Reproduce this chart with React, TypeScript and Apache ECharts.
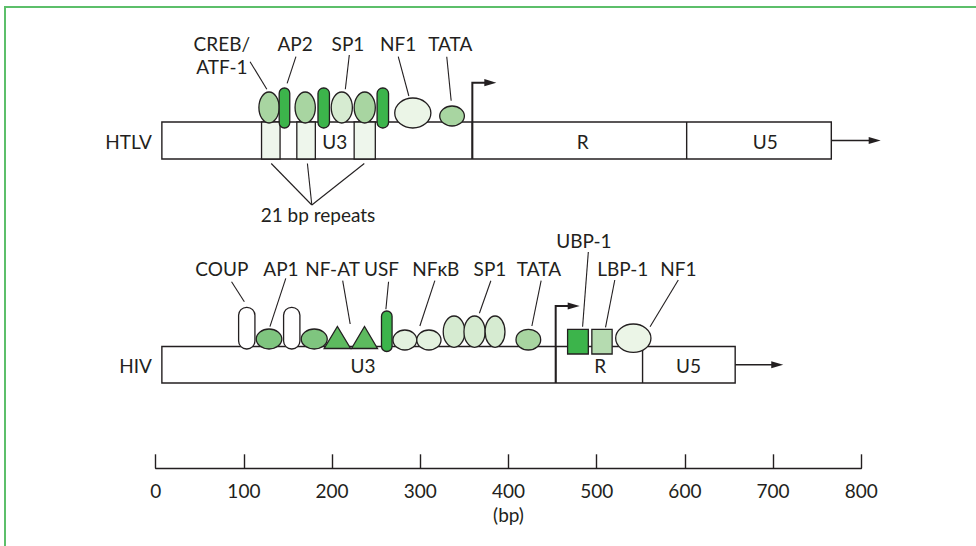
import React, { useEffect, useRef } from "react";
import * as echarts from "echarts";

// ---------------- data (positions in base pairs) ----------------
const axisMin = 0;
const axisMax = 800;
const axisStep = 100;
const axisName = "(bp)";

const rowNames = ["HTLV", "HIV"];

const htlvSegmentNames = ["U3", "R", "U5"];
const htlvSegmentBounds = [7, 359, 602, 766];
const htlvSegmentLabelBp = [203, 484, 691];
const htlvRepeatStart = [120, 160, 225];
const htlvRepeatEnd = [141, 181, 249];
const htlvSiteStart = [117, 140, 158, 184, 199, 225, 251, 271, 322];
const htlvSiteEnd = [140, 152, 181, 197, 223, 249, 264, 312, 350];
const htlvSiteKind = ["creb", "ap2", "creb", "ap2", "sp1h", "creb", "ap2", "nf1h", "tatah"];
const htlvLabels = ["CREB/\nATF-1", "AP2", "SP1", "NF1", "TATA"];
const htlvLabelBp = [75, 158, 218, 275, 334];
const htlvLeaderFromBp = [107, 159, 219.5, 275, 330];
const htlvLeaderToBp = [126, 149, 215, 287, 335];
const htlvPromoterBp = 359;
const htlvEndArrowBp = 822;
const repeatLabel = "21 bp repeats";
const repeatLabelBp = 184;
const repeatConvergeBp = 177;
const repeatLeaderTopBp = [131, 172, 236.5];

const hivSegmentNames = ["U3", "R", "U5"];
const hivSegmentBounds = [7, 453.5, 552, 657];
const hivSegmentLabelBp = [235, 504, 604];
const hivSiteStart = [94, 114, 145, 165, 191, 222, 256, 269, 296, 326, 349.5, 373.5, 408.5, 467, 494.5, 521.5];
const hivSiteEnd = [112.5, 143, 163.5, 194.5, 221, 251.5, 268, 296, 323.5, 350.5, 373.5, 396, 436.5, 490.5, 517.5, 561.5];
const hivSiteKind = ["coup", "ap1", "coup", "ap1", "nfat", "nfat", "usf", "nfkb", "nfkb", "sp1", "sp1", "sp1", "tata", "ubp", "lbp", "nf1"];
const hivLabels = ["COUP", "AP1", "NF-AT", "USF", "NFκB", "SP1", "TATA", "UBP-1", "LBP-1", "NF1"];
const hivLabelBp = [75, 142, 200.5, 256, 317.5, 379, 434.5, 485.5, 529.5, 592.5];
const hivLeaderFromBp = [86, 147.5, 212, 264, 316.5, 380, 437, 490.5, 520.5, 592.5];
const hivLeaderToBp = [100.5, 129.5, 220.5, 261, 299.5, 367, 426.5, 484, 510, 560.5];
const hivPromoterBp = 453.5;
const hivEndArrowBp = 711.5;

// ---------------- layout & styles (pixels) ----------------
const INK = "#231f20";
const FONT = "Lato";
const FS = 19;
const FRAME = "#5cbf6a";

const LAYOUT: any = {
  htlv: {
    top: 122,
    bottom: 159,
    labelY: [43.3, 43.3, 43.3, 43.3, 43.3],
    leaderTop: [61.7, 56.7, 55, 56.7, 56.7],
    leaderBottom: [89.3, 83.3, 89.3, 96, 100.7],
    promoterTop: 82.7,
  },
  hiv: {
    top: 346.5,
    bottom: 383,
    labelY: [268.3, 268.3, 268.3, 268.3, 268.3, 268.3, 268.3, 240, 268.3, 268.3],
    leaderTop: [281.7, 278.3, 280.7, 281.7, 280.7, 280.7, 280.7, 252, 280, 280],
    leaderBottom: [301.7, 326.7, 324, 309.3, 326, 313.3, 326, 326.7, 327.3, 326.7],
    promoterTop: 306,
  },
};
const LINE_H = 23.4;
const REPEAT_TOP_Y = 163.5;
const REPEAT_CONVERGE_Y = 205;
const REPEAT_LABEL_Y = 214;
const PROMOTER_LEN = 24;
const HEAD_LEN = 12;
const HEAD_HALF = 3.6;

const SITE_STYLE: any = {
  creb: { shape: "ellipse", top: -30, bottom: 1, fill: "#a8d5a1" },
  ap2: { shape: "rect", top: -34, bottom: 6, fill: "#3cb44b", r: 5.5 },
  sp1h: { shape: "ellipse", top: -30, bottom: 1, fill: "#d6ebd1" },
  nf1h: { shape: "ellipse", top: -24, bottom: 6, fill: "#ebf5e7" },
  tatah: { shape: "ellipse", top: -16, bottom: 4, fill: "#a8d5a1" },
  coup: { shape: "rect", top: -39.2, bottom: 2.5, fill: "#ffffff", r: 8 },
  ap1: { shape: "ellipse", top: -17.5, bottom: 2.5, fill: "#7fc57f" },
  nfat: { shape: "triangle", top: -20, bottom: 2, fill: "#5dba5f" },
  usf: { shape: "rect", top: -35.5, bottom: 5, fill: "#3cb44b", r: 5.5 },
  nfkb: { shape: "ellipse", top: -16.5, bottom: 3.5, fill: "#e3f1df" },
  sp1: { shape: "ellipse", top: -30.5, bottom: 0.8, fill: "#d6ebd1" },
  tata: { shape: "ellipse", top: -17.2, bottom: 3.5, fill: "#a8d5a1" },
  ubp: { shape: "rect", top: -17.2, bottom: 7.5, fill: "#3cb44b", r: 0 },
  lbp: { shape: "rect", top: -17.2, bottom: 7.5, fill: "#b5dbb0", r: 0 },
  nf1: { shape: "ellipse", top: -22.5, bottom: 5.8, fill: "#ebf5e7" },
};

const textEl = (text: string, x: number, y: number, align = "center") => ({
  type: "text",
  style: { text, x, y, align, verticalAlign: "middle", fontSize: FS, fontFamily: FONT, fill: INK },
});
const lineEl = (x1: number, y1: number, x2: number, y2: number, w = 1.2) => ({
  type: "line",
  shape: { x1, y1, x2, y2 },
  style: { stroke: INK, lineWidth: w },
});
const headEl = (x: number, y: number) => ({
  type: "polygon",
  shape: { points: [[x, y], [x - HEAD_LEN, y - HEAD_HALF], [x - HEAD_LEN, y + HEAD_HALF]] },
  style: { fill: INK },
});

const ROWS: any = {
  htlv: {
    name: rowNames[0], seg: htlvSegmentNames, bounds: htlvSegmentBounds, segLabel: htlvSegmentLabelBp,
    siteStart: htlvSiteStart, siteEnd: htlvSiteEnd, siteKind: htlvSiteKind,
    labels: htlvLabels, labelBp: htlvLabelBp, fromBp: htlvLeaderFromBp, toBp: htlvLeaderToBp,
    promoter: htlvPromoterBp, endArrow: htlvEndArrowBp,
  },
  hiv: {
    name: rowNames[1], seg: hivSegmentNames, bounds: hivSegmentBounds, segLabel: hivSegmentLabelBp,
    siteStart: hivSiteStart, siteEnd: hivSiteEnd, siteKind: hivSiteKind,
    labels: hivLabels, labelBp: hivLabelBp, fromBp: hivLeaderFromBp, toBp: hivLeaderToBp,
    promoter: hivPromoterBp, endArrow: hivEndArrowBp,
  },
};

function rowSeries(key: string): any[] {
  const R = ROWS[key];
  const L = LAYOUT[key];
  const n = R.bounds.length;
  const boxSeries = {
    type: "custom", z: 1, clip: false, silent: true,
    data: [[R.bounds[0], R.bounds[n - 1], R.endArrow]],
    renderItem: (_p: any, api: any) => {
      const [x0, y0] = api.coord([api.value(0), L.top]);
      const [x1, y1] = api.coord([api.value(1), L.bottom]);
      const [xa] = api.coord([api.value(2), L.top]);
      const cy = (y0 + y1) / 2;
      const children: any[] = [
        { type: "rect", shape: { x: x0, y: y0, width: x1 - x0, height: y1 - y0 }, style: { fill: "#fff", stroke: INK, lineWidth: 1.4 } },
        textEl(R.name, x0 - 10, cy + 1, "right"),
        lineEl(x1, cy, xa - HEAD_LEN + 1, cy, 1.3),
        headEl(xa, cy),
      ];
      return { type: "group", children };
    },
  };
  const segSeries = {
    type: "custom", z: 3, clip: false, silent: true,
    data: R.seg.map((_s: string, i: number) => [R.bounds[i], R.segLabel[i]]),
    renderItem: (p: any, api: any) => {
      const i = p.dataIndex;
      const [xb, y0] = api.coord([api.value(0), L.top]);
      const [, y1] = api.coord([api.value(0), L.bottom]);
      const [xl] = api.coord([api.value(1), L.top]);
      const children: any[] = [textEl(R.seg[i], xl, (y0 + y1) / 2 + 1)];
      if (i > 0) children.push(lineEl(xb, y0, xb, y1, 1.4));
      return { type: "group", children };
    },
  };
  const promoterSeries = {
    type: "custom", z: 3, clip: false, silent: true,
    data: [[R.promoter]],
    renderItem: (_p: any, api: any) => {
      const [x, yb] = api.coord([api.value(0), L.bottom]);
      const [, yt] = api.coord([api.value(0), L.promoterTop]);
      return {
        type: "group",
        children: [
          { type: "polyline", shape: { points: [[x, yb], [x, yt], [x + PROMOTER_LEN - HEAD_LEN + 1, yt]] }, style: { stroke: INK, lineWidth: 2, fill: null } },
          headEl(x + PROMOTER_LEN, yt),
        ],
      };
    },
  };
  const siteSeries = {
    type: "custom", z: 4, clip: false, silent: true,
    data: R.siteStart.map((s: number, i: number) => [s, R.siteEnd[i]]),
    renderItem: (p: any, api: any) => {
      const st = SITE_STYLE[R.siteKind[p.dataIndex]];
      const [x0, y0] = api.coord([api.value(0), L.top + st.top]);
      const [x1, y1] = api.coord([api.value(1), L.top + st.bottom]);
      const style = { fill: st.fill, stroke: INK, lineWidth: 1.3 };
      if (st.shape === "ellipse")
        return { type: "ellipse", shape: { cx: (x0 + x1) / 2, cy: (y0 + y1) / 2, rx: (x1 - x0) / 2, ry: (y1 - y0) / 2 }, style };
      if (st.shape === "triangle")
        return { type: "polygon", shape: { points: [[x0, y1], [(x0 + x1) / 2, y0], [x1, y1]] }, style };
      return { type: "rect", shape: { x: x0, y: y0, width: x1 - x0, height: y1 - y0, r: st.r }, style };
    },
  };
  const labelSeries = {
    type: "custom", z: 5, clip: false, silent: true,
    data: R.labels.map((_l: string, i: number) => [R.labelBp[i], R.fromBp[i], R.toBp[i]]),
    renderItem: (p: any, api: any) => {
      const i = p.dataIndex;
      const [xl] = api.coord([api.value(0), 0]);
      const [xf, yf] = api.coord([api.value(1), L.leaderTop[i]]);
      const [xt, yt] = api.coord([api.value(2), L.leaderBottom[i]]);
      const lines = String(R.labels[i]).split("\n");
      const children: any[] = lines.map((t: string, k: number) => textEl(t, xl, L.labelY[i] + k * LINE_H));
      children.push(lineEl(xf, yf, xt, yt, 1.1));
      return { type: "group", children };
    },
  };
  return [boxSeries, segSeries, promoterSeries, siteSeries, labelSeries];
}

function repeatSeries(): any[] {
  const L = LAYOUT.htlv;
  return [
    {
      type: "custom", z: 2, clip: false, silent: true,
      data: htlvRepeatStart.map((s, i) => [s, htlvRepeatEnd[i]]),
      renderItem: (_p: any, api: any) => {
        const [x0, y0] = api.coord([api.value(0), L.top]);
        const [x1, y1] = api.coord([api.value(1), L.bottom]);
        return { type: "rect", shape: { x: x0, y: y0, width: x1 - x0, height: y1 - y0 }, style: { fill: "#eef6ec", stroke: INK, lineWidth: 1.3 } };
      },
    },
    {
      type: "custom", z: 5, clip: false, silent: true,
      data: repeatLeaderTopBp.map((b) => [b, repeatConvergeBp]),
      renderItem: (_p: any, api: any) => {
        const [xa, ya] = api.coord([api.value(0), REPEAT_TOP_Y]);
        const [xb, yb] = api.coord([api.value(1), REPEAT_CONVERGE_Y]);
        return lineEl(xa, ya, xb, yb, 1.1);
      },
    },
    {
      type: "custom", z: 5, clip: false, silent: true,
      data: [[repeatLabelBp]],
      renderItem: (_p: any, api: any) => {
        const [x] = api.coord([api.value(0), REPEAT_LABEL_Y]);
        return textEl(repeatLabel, x, REPEAT_LABEL_Y);
      },
    },
  ];
}

export default function App() {
  const ref = useRef<HTMLDivElement>(null);
  useEffect(() => {
    if (!ref.current) return;
    const chart = echarts.init(ref.current, null, { renderer: "svg" });
    chart.setOption({
      animation: false,
      backgroundColor: "#ffffff",
      grid: { left: 155.7, right: 114.7, top: 0, bottom: 77.7, containLabel: false },
      xAxis: {
        type: "value",
        position: "bottom",
        min: axisMin,
        max: axisMax,
        interval: axisStep,
        name: axisName,
        nameLocation: "middle",
        nameGap: 31,
        nameTextStyle: { fontSize: FS, fontFamily: FONT, color: INK },
        axisLine: { show: true, onZero: false, lineStyle: { color: INK, width: 1.4 } },
        axisTick: { show: true, inside: true, length: 14, lineStyle: { color: INK, width: 1.4 } },
        axisLabel: { fontSize: FS, fontFamily: FONT, color: INK, margin: 13 },
        splitLine: { show: false },
      },
      yAxis: { type: "value", min: 0, max: 468.3, inverse: true, show: false },
      graphic: [
        { type: "line", shape: { x1: 5, y1: 7, x2: 5, y2: 546 }, style: { stroke: FRAME, lineWidth: 2 } },
        { type: "line", shape: { x1: 4, y1: 7, x2: 976, y2: 7 }, style: { stroke: FRAME, lineWidth: 2 } },
      ],
      series: [...rowSeries("htlv"), ...repeatSeries(), ...rowSeries("hiv")],
    });
    return () => chart.dispose();
  }, []);
  return <div ref={ref} style={{ position: "fixed", left: 0, top: 0, width: 976, height: 546 }} />;
}
